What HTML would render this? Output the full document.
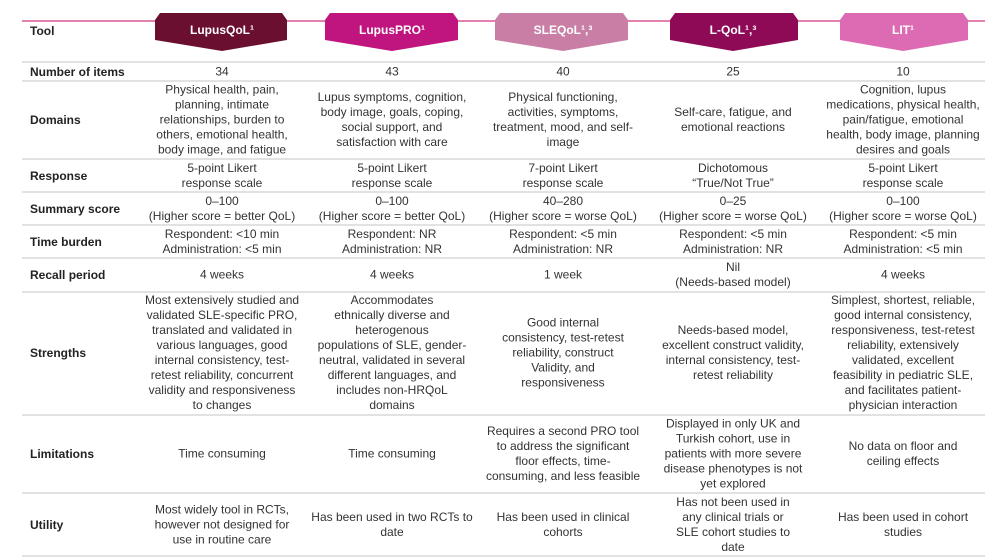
<!DOCTYPE html>
<html><head><meta charset="utf-8"><style>
body{margin:0;width:1000px;height:560px;background:#fff;font-family:"Liberation Sans",sans-serif;color:#333;position:relative;overflow:hidden}
.hl{position:absolute;left:22px;width:963px;height:2px;background:#e2e2e2}
.lab{position:absolute;left:30px;font-weight:bold;font-size:12px;color:#222;transform:translateY(-50%)}
.c{position:absolute;white-space:nowrap;text-align:center;font-size:12px;line-height:15px;transform:translate(-50%,-50%)}
.b{position:absolute;top:0;left:0}
</style></head><body>
<svg class="b" width="1000" height="60">
<line x1="22" y1="21" x2="985" y2="21" stroke="#d4387f" stroke-width="1.2"/>
<polygon points="160,13 282,13 287,20 287,40 222,51 155,40 155,20" fill="#6b0f30"/>
<polygon points="330,13 453,13 458,20 458,40 392,51 325,40 325,20" fill="#c0157f"/>
<polygon points="500,13 623,13 628,20 628,40 563,51 495,40 495,20" fill="#c97fa5"/>
<polygon points="675,13 793,13 798,20 798,40 733,51 670,40 670,20" fill="#8e0a57"/>
<polygon points="845,13 963,13 968,20 968,40 903,51 840,40 840,20" fill="#dd6bb4"/>
<g fill="#fff" font-weight="bold" font-size="12" text-anchor="middle" font-family="Liberation Sans,sans-serif">
<text x="222" y="34">LupusQoL¹</text><text x="392" y="34">LupusPRO¹</text><text x="563" y="34">SLEQoL¹,³</text><text x="733" y="34">L-QoL¹,³</text><text x="903" y="34">LIT¹</text></g>
</svg>
<div class="lab" style="top:31px">Tool</div>
<div class="hl" style="top:61px"></div><div class="hl" style="top:80px"></div><div class="hl" style="top:158px"></div><div class="hl" style="top:191px"></div><div class="hl" style="top:224px"></div><div class="hl" style="top:257px"></div><div class="hl" style="top:291px"></div><div class="hl" style="top:414px"></div><div class="hl" style="top:492px"></div><div class="hl" style="top:555px"></div>

<div class="lab" style="top:72px">Number of items</div>
<div class="c" style="left:222px;top:72px">34</div><div class="c" style="left:392px;top:72px">43</div><div class="c" style="left:563px;top:72px">40</div><div class="c" style="left:733px;top:72px">25</div><div class="c" style="left:903px;top:72px">10</div>

<div class="lab" style="top:120px">Domains</div>
<div class="c" style="left:222px;top:120px">Physical health, pain,<br>planning, intimate<br>relationships, burden to<br>others, emotional health,<br>body image, and fatigue</div>
<div class="c" style="left:392px;top:120px">Lupus symptoms, cognition,<br>body image, goals, coping,<br>social support, and<br>satisfaction with care</div>
<div class="c" style="left:563px;top:120px">Physical functioning,<br>activities, symptoms,<br>treatment, mood, and self-<br>image</div>
<div class="c" style="left:733px;top:120px">Self-care, fatigue, and<br>emotional reactions</div>
<div class="c" style="left:903px;top:120px">Cognition, lupus<br>medications, physical health,<br>pain/fatigue, emotional<br>health, body image, planning<br>desires and goals</div>

<div class="lab" style="top:176px">Response</div>
<div class="c" style="left:222px;top:176px">5-point Likert<br>response scale</div><div class="c" style="left:392px;top:176px">5-point Likert<br>response scale</div><div class="c" style="left:563px;top:176px">7-point Likert<br>response scale</div><div class="c" style="left:733px;top:176px">Dichotomous<br>“True/Not True”</div><div class="c" style="left:903px;top:176px">5-point Likert<br>response scale</div>

<div class="lab" style="top:209px">Summary score</div>
<div class="c" style="left:222px;top:209px">0–100<br>(Higher score = better QoL)</div><div class="c" style="left:392px;top:209px">0–100<br>(Higher score = better QoL)</div><div class="c" style="left:563px;top:209px">40–280<br>(Higher score = worse QoL)</div><div class="c" style="left:733px;top:209px">0–25<br>(Higher score = worse QoL)</div><div class="c" style="left:903px;top:209px">0–100<br>(Higher score = worse QoL)</div>

<div class="lab" style="top:242px">Time burden</div>
<div class="c" style="left:222px;top:242px">Respondent: &lt;10 min<br>Administration: &lt;5 min</div><div class="c" style="left:392px;top:242px">Respondent: NR<br>Administration: NR</div><div class="c" style="left:563px;top:242px">Respondent: &lt;5 min<br>Administration: NR</div><div class="c" style="left:733px;top:242px">Respondent: &lt;5 min<br>Administration: NR</div><div class="c" style="left:903px;top:242px">Respondent: &lt;5 min<br>Administration: &lt;5 min</div>

<div class="lab" style="top:275px">Recall period</div>
<div class="c" style="left:222px;top:275px">4 weeks</div><div class="c" style="left:392px;top:275px">4 weeks</div><div class="c" style="left:563px;top:275px">1 week</div><div class="c" style="left:733px;top:275px">Nil<br>(Needs-based model)</div><div class="c" style="left:903px;top:275px">4 weeks</div>

<div class="lab" style="top:353px">Strengths</div>
<div class="c" style="left:222px;top:353px">Most extensively studied and<br>validated SLE-specific PRO,<br>translated and validated in<br>various languages, good<br>internal consistency, test-<br>retest reliability, concurrent<br>validity and responsiveness<br>to changes</div>
<div class="c" style="left:392px;top:353px">Accommodates<br>ethnically diverse and<br>heterogenous<br>populations of SLE, gender-<br>neutral, validated in several<br>different languages, and<br>includes non-HRQoL<br>domains</div>
<div class="c" style="left:563px;top:353px">Good internal<br>consistency, test-retest<br>reliability, construct<br>Validity, and<br>responsiveness</div>
<div class="c" style="left:733px;top:353px">Needs-based model,<br>excellent construct validity,<br>internal consistency, test-<br>retest reliability</div>
<div class="c" style="left:903px;top:353px">Simplest, shortest, reliable,<br>good internal consistency,<br>responsiveness, test-retest<br>reliability, extensively<br>validated, excellent<br>feasibility in pediatric SLE,<br>and facilitates patient-<br>physician interaction</div>

<div class="lab" style="top:454px">Limitations</div>
<div class="c" style="left:222px;top:454px">Time consuming</div><div class="c" style="left:392px;top:454px">Time consuming</div>
<div class="c" style="left:563px;top:454px">Requires a second PRO tool<br>to address the significant<br>floor effects, time-<br>consuming, and less feasible</div>
<div class="c" style="left:733px;top:454px">Displayed in only UK and<br>Turkish cohort, use in<br>patients with more severe<br>disease phenotypes is not<br>yet explored</div>
<div class="c" style="left:903px;top:454px">No data on floor and<br>ceiling effects</div>

<div class="lab" style="top:525px">Utility</div>
<div class="c" style="left:222px;top:525px">Most widely tool in RCTs,<br>however not designed for<br>use in routine care</div>
<div class="c" style="left:392px;top:525px">Has been used in two RCTs to<br>date</div>
<div class="c" style="left:563px;top:525px">Has been used in clinical<br>cohorts</div>
<div class="c" style="left:733px;top:525px">Has not been used in<br>any clinical trials or<br>SLE cohort studies to<br>date</div>
<div class="c" style="left:903px;top:525px">Has been used in cohort<br>studies</div>
</body></html>
